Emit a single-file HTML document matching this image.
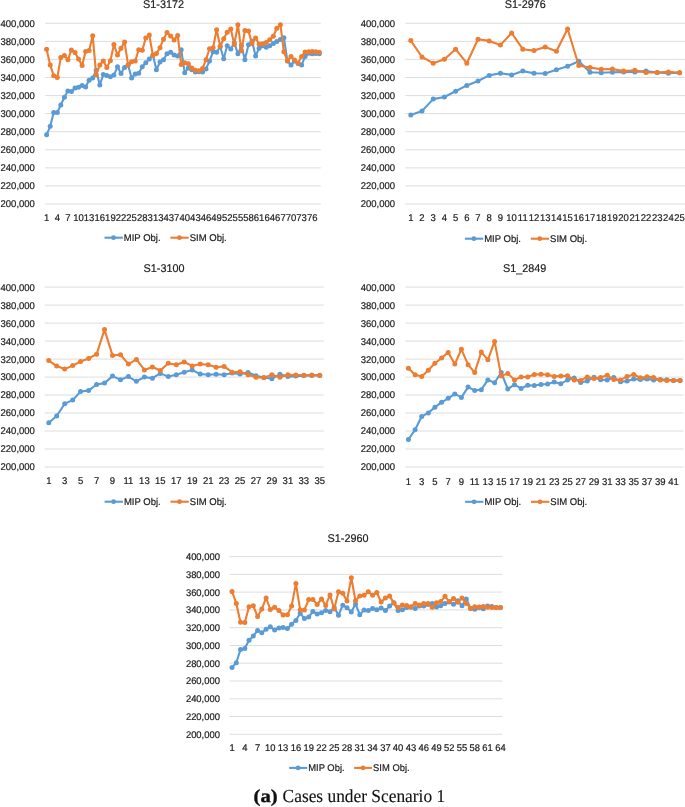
<!DOCTYPE html>
<html lang="en"><head><meta charset="utf-8"><title>Cases under Scenario 1</title>
<style>
html,body{margin:0;padding:0;background:#fff;}
body{width:685px;height:807px;overflow:hidden;}
svg{display:block;}
text{font-family:"Liberation Sans",sans-serif;fill:#202020;text-rendering:geometricPrecision;stroke:#202020;stroke-width:0.2px;}
.cap{font-family:"Liberation Serif",serif;fill:#111;stroke:none;}
</style></head><body>
<svg width="685" height="807" viewBox="0 0 685 807">
<rect width="685" height="807" fill="#fff"/>

<g>
<text transform="translate(163.5 8.3) scale(0.967 1)" font-size="11.2" text-anchor="middle">S1-3172</text>
<line x1="45.2" x2="320.8" y1="23.3" y2="23.3" stroke="#D9D9D9" stroke-width="0.9"/>
<text transform="translate(34.9 26.7) scale(0.97 1)" font-size="9.8" text-anchor="end">400,000</text>
<line x1="45.2" x2="320.8" y1="41.4" y2="41.4" stroke="#D9D9D9" stroke-width="0.9"/>
<text transform="translate(34.9 44.8) scale(0.97 1)" font-size="9.8" text-anchor="end">380,000</text>
<line x1="45.2" x2="320.8" y1="59.4" y2="59.4" stroke="#D9D9D9" stroke-width="0.9"/>
<text transform="translate(34.9 62.8) scale(0.97 1)" font-size="9.8" text-anchor="end">360,000</text>
<line x1="45.2" x2="320.8" y1="77.5" y2="77.5" stroke="#D9D9D9" stroke-width="0.9"/>
<text transform="translate(34.9 80.9) scale(0.97 1)" font-size="9.8" text-anchor="end">340,000</text>
<line x1="45.2" x2="320.8" y1="95.6" y2="95.6" stroke="#D9D9D9" stroke-width="0.9"/>
<text transform="translate(34.9 99) scale(0.97 1)" font-size="9.8" text-anchor="end">320,000</text>
<line x1="45.2" x2="320.8" y1="113.6" y2="113.6" stroke="#D9D9D9" stroke-width="0.9"/>
<text transform="translate(34.9 117) scale(0.97 1)" font-size="9.8" text-anchor="end">300,000</text>
<line x1="45.2" x2="320.8" y1="131.7" y2="131.7" stroke="#D9D9D9" stroke-width="0.9"/>
<text transform="translate(34.9 135.1) scale(0.97 1)" font-size="9.8" text-anchor="end">280,000</text>
<line x1="45.2" x2="320.8" y1="149.8" y2="149.8" stroke="#D9D9D9" stroke-width="0.9"/>
<text transform="translate(34.9 153.2) scale(0.97 1)" font-size="9.8" text-anchor="end">260,000</text>
<line x1="45.2" x2="320.8" y1="167.9" y2="167.9" stroke="#D9D9D9" stroke-width="0.9"/>
<text transform="translate(34.9 171.3) scale(0.97 1)" font-size="9.8" text-anchor="end">240,000</text>
<line x1="45.2" x2="320.8" y1="185.9" y2="185.9" stroke="#D9D9D9" stroke-width="0.9"/>
<text transform="translate(34.9 189.3) scale(0.97 1)" font-size="9.8" text-anchor="end">220,000</text>
<line x1="45.2" x2="320.8" y1="204" y2="204" stroke="#D9D9D9" stroke-width="0.9"/>
<text transform="translate(34.9 207.4) scale(0.97 1)" font-size="9.8" text-anchor="end">200,000</text>
<text transform="translate(46.6 221.1) scale(0.97 1)" font-size="9.8" text-anchor="middle">1</text>
<text transform="translate(57.3 221.1) scale(0.97 1)" font-size="9.8" text-anchor="middle">4</text>
<text transform="translate(67.9 221.1) scale(0.97 1)" font-size="9.8" text-anchor="middle">7</text>
<text transform="translate(78.5 221.1) scale(0.97 1)" font-size="9.8" text-anchor="middle">10</text>
<text transform="translate(89.1 221.1) scale(0.97 1)" font-size="9.8" text-anchor="middle">13</text>
<text transform="translate(99.8 221.1) scale(0.97 1)" font-size="9.8" text-anchor="middle">16</text>
<text transform="translate(110.4 221.1) scale(0.97 1)" font-size="9.8" text-anchor="middle">19</text>
<text transform="translate(121 221.1) scale(0.97 1)" font-size="9.8" text-anchor="middle">22</text>
<text transform="translate(131.6 221.1) scale(0.97 1)" font-size="9.8" text-anchor="middle">25</text>
<text transform="translate(142.3 221.1) scale(0.97 1)" font-size="9.8" text-anchor="middle">28</text>
<text transform="translate(152.9 221.1) scale(0.97 1)" font-size="9.8" text-anchor="middle">31</text>
<text transform="translate(163.5 221.1) scale(0.97 1)" font-size="9.8" text-anchor="middle">34</text>
<text transform="translate(174.1 221.1) scale(0.97 1)" font-size="9.8" text-anchor="middle">37</text>
<text transform="translate(184.7 221.1) scale(0.97 1)" font-size="9.8" text-anchor="middle">40</text>
<text transform="translate(195.4 221.1) scale(0.97 1)" font-size="9.8" text-anchor="middle">43</text>
<text transform="translate(206 221.1) scale(0.97 1)" font-size="9.8" text-anchor="middle">46</text>
<text transform="translate(216.6 221.1) scale(0.97 1)" font-size="9.8" text-anchor="middle">49</text>
<text transform="translate(227.2 221.1) scale(0.97 1)" font-size="9.8" text-anchor="middle">52</text>
<text transform="translate(237.9 221.1) scale(0.97 1)" font-size="9.8" text-anchor="middle">55</text>
<text transform="translate(248.5 221.1) scale(0.97 1)" font-size="9.8" text-anchor="middle">58</text>
<text transform="translate(259.1 221.1) scale(0.97 1)" font-size="9.8" text-anchor="middle">61</text>
<text transform="translate(269.7 221.1) scale(0.97 1)" font-size="9.8" text-anchor="middle">64</text>
<text transform="translate(280.4 221.1) scale(0.97 1)" font-size="9.8" text-anchor="middle">67</text>
<text transform="translate(291 221.1) scale(0.97 1)" font-size="9.8" text-anchor="middle">70</text>
<text transform="translate(301.6 221.1) scale(0.97 1)" font-size="9.8" text-anchor="middle">73</text>
<text transform="translate(312.2 221.1) scale(0.97 1)" font-size="9.8" text-anchor="middle">76</text>
<polyline points="46.6,134.8 50.2,126.3 53.7,112.5 57.3,112.5 60.8,104.9 64.4,97.2 67.9,91.1 71.4,91.6 75,88 78.5,87.3 82.1,85.4 85.6,87 89.1,80.3 92.7,78.1 96.2,70.2 99.8,84.9 103.3,74.6 106.8,75.6 110.4,76.8 113.9,75.1 117.5,66.8 121,73.5 124.6,67.4 128.1,65 131.6,78 135.2,74.1 138.7,73.2 142.3,66.8 145.8,62.8 149.3,59.1 152.9,55 156.4,69.7 160,62 163.5,59.7 167,53.8 170.6,52.3 174.1,54.9 177.7,55.9 181.2,49.7 184.7,72.7 188.3,68.1 191.8,69.7 195.4,72 198.9,71.7 202.5,72 206,68.9 209.5,61 213.1,51.8 216.6,52.3 220.2,46.7 223.7,58.7 227.2,45.7 230.8,49 234.3,42.8 237.9,53.8 241.4,45.7 244.9,59.7 248.5,44.8 252,41 255.6,55.9 259.1,48.2 262.7,45.7 266.2,47.2 269.7,45.7 273.3,43.6 276.8,41.6 280.4,39.5 283.9,37.7 287.4,61 291,65.1 294.5,61 298.1,63.5 301.6,65.1 305.1,56.4 308.7,53.3 312.2,53.8 315.8,53.5 319.3,53.8" fill="none" stroke="#5B9BD5" stroke-width="2.1" stroke-linejoin="round" stroke-linecap="round"/>
<g fill="#5B9BD5"><circle cx="46.6" cy="134.8" r="2.5"/><circle cx="50.2" cy="126.3" r="2.5"/><circle cx="53.7" cy="112.5" r="2.5"/><circle cx="57.3" cy="112.5" r="2.5"/><circle cx="60.8" cy="104.9" r="2.5"/><circle cx="64.4" cy="97.2" r="2.5"/><circle cx="67.9" cy="91.1" r="2.5"/><circle cx="71.4" cy="91.6" r="2.5"/><circle cx="75" cy="88" r="2.5"/><circle cx="78.5" cy="87.3" r="2.5"/><circle cx="82.1" cy="85.4" r="2.5"/><circle cx="85.6" cy="87" r="2.5"/><circle cx="89.1" cy="80.3" r="2.5"/><circle cx="92.7" cy="78.1" r="2.5"/><circle cx="96.2" cy="70.2" r="2.5"/><circle cx="99.8" cy="84.9" r="2.5"/><circle cx="103.3" cy="74.6" r="2.5"/><circle cx="106.8" cy="75.6" r="2.5"/><circle cx="110.4" cy="76.8" r="2.5"/><circle cx="113.9" cy="75.1" r="2.5"/><circle cx="117.5" cy="66.8" r="2.5"/><circle cx="121" cy="73.5" r="2.5"/><circle cx="124.6" cy="67.4" r="2.5"/><circle cx="128.1" cy="65" r="2.5"/><circle cx="131.6" cy="78" r="2.5"/><circle cx="135.2" cy="74.1" r="2.5"/><circle cx="138.7" cy="73.2" r="2.5"/><circle cx="142.3" cy="66.8" r="2.5"/><circle cx="145.8" cy="62.8" r="2.5"/><circle cx="149.3" cy="59.1" r="2.5"/><circle cx="152.9" cy="55" r="2.5"/><circle cx="156.4" cy="69.7" r="2.5"/><circle cx="160" cy="62" r="2.5"/><circle cx="163.5" cy="59.7" r="2.5"/><circle cx="167" cy="53.8" r="2.5"/><circle cx="170.6" cy="52.3" r="2.5"/><circle cx="174.1" cy="54.9" r="2.5"/><circle cx="177.7" cy="55.9" r="2.5"/><circle cx="181.2" cy="49.7" r="2.5"/><circle cx="184.7" cy="72.7" r="2.5"/><circle cx="188.3" cy="68.1" r="2.5"/><circle cx="191.8" cy="69.7" r="2.5"/><circle cx="195.4" cy="72" r="2.5"/><circle cx="198.9" cy="71.7" r="2.5"/><circle cx="202.5" cy="72" r="2.5"/><circle cx="206" cy="68.9" r="2.5"/><circle cx="209.5" cy="61" r="2.5"/><circle cx="213.1" cy="51.8" r="2.5"/><circle cx="216.6" cy="52.3" r="2.5"/><circle cx="220.2" cy="46.7" r="2.5"/><circle cx="223.7" cy="58.7" r="2.5"/><circle cx="227.2" cy="45.7" r="2.5"/><circle cx="230.8" cy="49" r="2.5"/><circle cx="234.3" cy="42.8" r="2.5"/><circle cx="237.9" cy="53.8" r="2.5"/><circle cx="241.4" cy="45.7" r="2.5"/><circle cx="244.9" cy="59.7" r="2.5"/><circle cx="248.5" cy="44.8" r="2.5"/><circle cx="252" cy="41" r="2.5"/><circle cx="255.6" cy="55.9" r="2.5"/><circle cx="259.1" cy="48.2" r="2.5"/><circle cx="262.7" cy="45.7" r="2.5"/><circle cx="266.2" cy="47.2" r="2.5"/><circle cx="269.7" cy="45.7" r="2.5"/><circle cx="273.3" cy="43.6" r="2.5"/><circle cx="276.8" cy="41.6" r="2.5"/><circle cx="280.4" cy="39.5" r="2.5"/><circle cx="283.9" cy="37.7" r="2.5"/><circle cx="287.4" cy="61" r="2.5"/><circle cx="291" cy="65.1" r="2.5"/><circle cx="294.5" cy="61" r="2.5"/><circle cx="298.1" cy="63.5" r="2.5"/><circle cx="301.6" cy="65.1" r="2.5"/><circle cx="305.1" cy="56.4" r="2.5"/><circle cx="308.7" cy="53.3" r="2.5"/><circle cx="312.2" cy="53.8" r="2.5"/><circle cx="315.8" cy="53.5" r="2.5"/><circle cx="319.3" cy="53.8" r="2.5"/></g>
<polyline points="46.6,49.2 50.2,64.9 53.7,75.8 57.3,77.5 60.8,57.4 64.4,55.4 67.9,59.8 71.4,49.9 75,52.5 78.5,58.9 82.1,65.6 85.6,51.5 89.1,50.6 92.7,35.7 96.2,74.8 99.8,64.9 103.3,61 106.8,67.4 110.4,60.7 113.9,44.6 117.5,54.9 121,48.2 124.6,42.1 128.1,65.1 131.6,61.8 135.2,61 138.7,49.7 142.3,50.3 145.8,38 149.3,35.1 152.9,55.4 156.4,53.6 160,47.7 163.5,39.2 167,32.6 170.6,35.9 174.1,40 177.7,35.4 181.2,64.4 184.7,62.8 188.3,63.8 191.8,68.1 195.4,70.2 198.9,70.7 202.5,68.6 206,59.7 209.5,48.7 213.1,47.7 216.6,29.8 220.2,46.2 223.7,38.7 227.2,32.3 230.8,29 234.3,44.6 237.9,24.7 241.4,50.8 244.9,30.5 248.5,31.1 252,43.6 255.6,38 259.1,44.1 262.7,43.8 266.2,42.6 269.7,39.8 273.3,36.2 276.8,28.3 280.4,24.7 283.9,51.8 287.4,60.7 291,56.4 294.5,60 298.1,63 301.6,56.4 305.1,52 308.7,51.8 312.2,51.5 315.8,51.8 319.3,52.3" fill="none" stroke="#ED7D31" stroke-width="2.1" stroke-linejoin="round" stroke-linecap="round"/>
<g fill="#ED7D31"><circle cx="46.6" cy="49.2" r="2.5"/><circle cx="50.2" cy="64.9" r="2.5"/><circle cx="53.7" cy="75.8" r="2.5"/><circle cx="57.3" cy="77.5" r="2.5"/><circle cx="60.8" cy="57.4" r="2.5"/><circle cx="64.4" cy="55.4" r="2.5"/><circle cx="67.9" cy="59.8" r="2.5"/><circle cx="71.4" cy="49.9" r="2.5"/><circle cx="75" cy="52.5" r="2.5"/><circle cx="78.5" cy="58.9" r="2.5"/><circle cx="82.1" cy="65.6" r="2.5"/><circle cx="85.6" cy="51.5" r="2.5"/><circle cx="89.1" cy="50.6" r="2.5"/><circle cx="92.7" cy="35.7" r="2.5"/><circle cx="96.2" cy="74.8" r="2.5"/><circle cx="99.8" cy="64.9" r="2.5"/><circle cx="103.3" cy="61" r="2.5"/><circle cx="106.8" cy="67.4" r="2.5"/><circle cx="110.4" cy="60.7" r="2.5"/><circle cx="113.9" cy="44.6" r="2.5"/><circle cx="117.5" cy="54.9" r="2.5"/><circle cx="121" cy="48.2" r="2.5"/><circle cx="124.6" cy="42.1" r="2.5"/><circle cx="128.1" cy="65.1" r="2.5"/><circle cx="131.6" cy="61.8" r="2.5"/><circle cx="135.2" cy="61" r="2.5"/><circle cx="138.7" cy="49.7" r="2.5"/><circle cx="142.3" cy="50.3" r="2.5"/><circle cx="145.8" cy="38" r="2.5"/><circle cx="149.3" cy="35.1" r="2.5"/><circle cx="152.9" cy="55.4" r="2.5"/><circle cx="156.4" cy="53.6" r="2.5"/><circle cx="160" cy="47.7" r="2.5"/><circle cx="163.5" cy="39.2" r="2.5"/><circle cx="167" cy="32.6" r="2.5"/><circle cx="170.6" cy="35.9" r="2.5"/><circle cx="174.1" cy="40" r="2.5"/><circle cx="177.7" cy="35.4" r="2.5"/><circle cx="181.2" cy="64.4" r="2.5"/><circle cx="184.7" cy="62.8" r="2.5"/><circle cx="188.3" cy="63.8" r="2.5"/><circle cx="191.8" cy="68.1" r="2.5"/><circle cx="195.4" cy="70.2" r="2.5"/><circle cx="198.9" cy="70.7" r="2.5"/><circle cx="202.5" cy="68.6" r="2.5"/><circle cx="206" cy="59.7" r="2.5"/><circle cx="209.5" cy="48.7" r="2.5"/><circle cx="213.1" cy="47.7" r="2.5"/><circle cx="216.6" cy="29.8" r="2.5"/><circle cx="220.2" cy="46.2" r="2.5"/><circle cx="223.7" cy="38.7" r="2.5"/><circle cx="227.2" cy="32.3" r="2.5"/><circle cx="230.8" cy="29" r="2.5"/><circle cx="234.3" cy="44.6" r="2.5"/><circle cx="237.9" cy="24.7" r="2.5"/><circle cx="241.4" cy="50.8" r="2.5"/><circle cx="244.9" cy="30.5" r="2.5"/><circle cx="248.5" cy="31.1" r="2.5"/><circle cx="252" cy="43.6" r="2.5"/><circle cx="255.6" cy="38" r="2.5"/><circle cx="259.1" cy="44.1" r="2.5"/><circle cx="262.7" cy="43.8" r="2.5"/><circle cx="266.2" cy="42.6" r="2.5"/><circle cx="269.7" cy="39.8" r="2.5"/><circle cx="273.3" cy="36.2" r="2.5"/><circle cx="276.8" cy="28.3" r="2.5"/><circle cx="280.4" cy="24.7" r="2.5"/><circle cx="283.9" cy="51.8" r="2.5"/><circle cx="287.4" cy="60.7" r="2.5"/><circle cx="291" cy="56.4" r="2.5"/><circle cx="294.5" cy="60" r="2.5"/><circle cx="298.1" cy="63" r="2.5"/><circle cx="301.6" cy="56.4" r="2.5"/><circle cx="305.1" cy="52" r="2.5"/><circle cx="308.7" cy="51.8" r="2.5"/><circle cx="312.2" cy="51.5" r="2.5"/><circle cx="315.8" cy="51.8" r="2.5"/><circle cx="319.3" cy="52.3" r="2.5"/></g>
<line x1="104.5" x2="122.8" y1="237.7" y2="237.7" stroke="#5B9BD5" stroke-width="2.1"/>
<circle cx="113.5" cy="237.7" r="2.4" fill="#5B9BD5"/>
<text transform="translate(123.8 240.9) scale(0.97 1)" font-size="9.8" text-anchor="start">MIP Obj.</text>
<line x1="170.4" x2="188.7" y1="237.7" y2="237.7" stroke="#ED7D31" stroke-width="2.1"/>
<circle cx="179.4" cy="237.7" r="2.4" fill="#ED7D31"/>
<text transform="translate(189.7 240.9) scale(0.97 1)" font-size="9.8" text-anchor="start">SIM Obj.</text>
</g>
<g>
<text transform="translate(525.3 8.3) scale(0.967 1)" font-size="11.2" text-anchor="middle">S1-2976</text>
<line x1="405.3" x2="685.3" y1="23.3" y2="23.3" stroke="#D9D9D9" stroke-width="0.9"/>
<text transform="translate(395 26.7) scale(0.97 1)" font-size="9.8" text-anchor="end">400,000</text>
<line x1="405.3" x2="685.3" y1="41.4" y2="41.4" stroke="#D9D9D9" stroke-width="0.9"/>
<text transform="translate(395 44.8) scale(0.97 1)" font-size="9.8" text-anchor="end">380,000</text>
<line x1="405.3" x2="685.3" y1="59.4" y2="59.4" stroke="#D9D9D9" stroke-width="0.9"/>
<text transform="translate(395 62.8) scale(0.97 1)" font-size="9.8" text-anchor="end">360,000</text>
<line x1="405.3" x2="685.3" y1="77.5" y2="77.5" stroke="#D9D9D9" stroke-width="0.9"/>
<text transform="translate(395 80.9) scale(0.97 1)" font-size="9.8" text-anchor="end">340,000</text>
<line x1="405.3" x2="685.3" y1="95.6" y2="95.6" stroke="#D9D9D9" stroke-width="0.9"/>
<text transform="translate(395 99) scale(0.97 1)" font-size="9.8" text-anchor="end">320,000</text>
<line x1="405.3" x2="685.3" y1="113.6" y2="113.6" stroke="#D9D9D9" stroke-width="0.9"/>
<text transform="translate(395 117) scale(0.97 1)" font-size="9.8" text-anchor="end">300,000</text>
<line x1="405.3" x2="685.3" y1="131.7" y2="131.7" stroke="#D9D9D9" stroke-width="0.9"/>
<text transform="translate(395 135.1) scale(0.97 1)" font-size="9.8" text-anchor="end">280,000</text>
<line x1="405.3" x2="685.3" y1="149.8" y2="149.8" stroke="#D9D9D9" stroke-width="0.9"/>
<text transform="translate(395 153.2) scale(0.97 1)" font-size="9.8" text-anchor="end">260,000</text>
<line x1="405.3" x2="685.3" y1="167.9" y2="167.9" stroke="#D9D9D9" stroke-width="0.9"/>
<text transform="translate(395 171.3) scale(0.97 1)" font-size="9.8" text-anchor="end">240,000</text>
<line x1="405.3" x2="685.3" y1="185.9" y2="185.9" stroke="#D9D9D9" stroke-width="0.9"/>
<text transform="translate(395 189.3) scale(0.97 1)" font-size="9.8" text-anchor="end">220,000</text>
<line x1="405.3" x2="685.3" y1="204" y2="204" stroke="#D9D9D9" stroke-width="0.9"/>
<text transform="translate(395 207.4) scale(0.97 1)" font-size="9.8" text-anchor="end">200,000</text>
<text transform="translate(410.8 221.1) scale(0.97 1)" font-size="9.8" text-anchor="middle">1</text>
<text transform="translate(422 221.1) scale(0.97 1)" font-size="9.8" text-anchor="middle">2</text>
<text transform="translate(433.2 221.1) scale(0.97 1)" font-size="9.8" text-anchor="middle">3</text>
<text transform="translate(444.4 221.1) scale(0.97 1)" font-size="9.8" text-anchor="middle">4</text>
<text transform="translate(455.6 221.1) scale(0.97 1)" font-size="9.8" text-anchor="middle">5</text>
<text transform="translate(466.8 221.1) scale(0.97 1)" font-size="9.8" text-anchor="middle">6</text>
<text transform="translate(478 221.1) scale(0.97 1)" font-size="9.8" text-anchor="middle">7</text>
<text transform="translate(489.2 221.1) scale(0.97 1)" font-size="9.8" text-anchor="middle">8</text>
<text transform="translate(500.4 221.1) scale(0.97 1)" font-size="9.8" text-anchor="middle">9</text>
<text transform="translate(511.6 221.1) scale(0.97 1)" font-size="9.8" text-anchor="middle">10</text>
<text transform="translate(522.8 221.1) scale(0.97 1)" font-size="9.8" text-anchor="middle">11</text>
<text transform="translate(534 221.1) scale(0.97 1)" font-size="9.8" text-anchor="middle">12</text>
<text transform="translate(545.2 221.1) scale(0.97 1)" font-size="9.8" text-anchor="middle">13</text>
<text transform="translate(556.4 221.1) scale(0.97 1)" font-size="9.8" text-anchor="middle">14</text>
<text transform="translate(567.6 221.1) scale(0.97 1)" font-size="9.8" text-anchor="middle">15</text>
<text transform="translate(578.8 221.1) scale(0.97 1)" font-size="9.8" text-anchor="middle">16</text>
<text transform="translate(590 221.1) scale(0.97 1)" font-size="9.8" text-anchor="middle">17</text>
<text transform="translate(601.2 221.1) scale(0.97 1)" font-size="9.8" text-anchor="middle">18</text>
<text transform="translate(612.4 221.1) scale(0.97 1)" font-size="9.8" text-anchor="middle">19</text>
<text transform="translate(623.6 221.1) scale(0.97 1)" font-size="9.8" text-anchor="middle">20</text>
<text transform="translate(634.8 221.1) scale(0.97 1)" font-size="9.8" text-anchor="middle">21</text>
<text transform="translate(646 221.1) scale(0.97 1)" font-size="9.8" text-anchor="middle">22</text>
<text transform="translate(657.2 221.1) scale(0.97 1)" font-size="9.8" text-anchor="middle">23</text>
<text transform="translate(668.4 221.1) scale(0.97 1)" font-size="9.8" text-anchor="middle">24</text>
<text transform="translate(679.6 221.1) scale(0.97 1)" font-size="9.8" text-anchor="middle">25</text>
<polyline points="410.8,114.9 422,111 433.2,99.1 444.4,97 455.6,91.2 466.8,85.4 478,81 489.2,75.4 500.4,73.2 511.6,74.9 522.8,71.1 534,73.3 545.2,73.5 556.4,69.8 567.6,66.3 578.8,61.3 590,72.3 601.2,72.8 612.4,72.3 623.6,72.1 634.8,71.9 646,71.1 657.2,72.5 668.4,73.2 679.6,72.8" fill="none" stroke="#5B9BD5" stroke-width="2.1" stroke-linejoin="round" stroke-linecap="round"/>
<g fill="#5B9BD5"><circle cx="410.8" cy="114.9" r="2.5"/><circle cx="422" cy="111" r="2.5"/><circle cx="433.2" cy="99.1" r="2.5"/><circle cx="444.4" cy="97" r="2.5"/><circle cx="455.6" cy="91.2" r="2.5"/><circle cx="466.8" cy="85.4" r="2.5"/><circle cx="478" cy="81" r="2.5"/><circle cx="489.2" cy="75.4" r="2.5"/><circle cx="500.4" cy="73.2" r="2.5"/><circle cx="511.6" cy="74.9" r="2.5"/><circle cx="522.8" cy="71.1" r="2.5"/><circle cx="534" cy="73.3" r="2.5"/><circle cx="545.2" cy="73.5" r="2.5"/><circle cx="556.4" cy="69.8" r="2.5"/><circle cx="567.6" cy="66.3" r="2.5"/><circle cx="578.8" cy="61.3" r="2.5"/><circle cx="590" cy="72.3" r="2.5"/><circle cx="601.2" cy="72.8" r="2.5"/><circle cx="612.4" cy="72.3" r="2.5"/><circle cx="623.6" cy="72.1" r="2.5"/><circle cx="634.8" cy="71.9" r="2.5"/><circle cx="646" cy="71.1" r="2.5"/><circle cx="657.2" cy="72.5" r="2.5"/><circle cx="668.4" cy="73.2" r="2.5"/><circle cx="679.6" cy="72.8" r="2.5"/></g>
<polyline points="410.8,40.6 422,57 433.2,63.2 444.4,59.3 455.6,49.2 466.8,63.2 478,39.2 489.2,40.9 500.4,45.1 511.6,33 522.8,49.2 534,50.6 545.2,46.9 556.4,51.3 567.6,29 578.8,65.5 590,67.6 601.2,69.3 612.4,69 623.6,71.1 634.8,70.2 646,72.5 657.2,72.5 668.4,71.9 679.6,72.8" fill="none" stroke="#ED7D31" stroke-width="2.1" stroke-linejoin="round" stroke-linecap="round"/>
<g fill="#ED7D31"><circle cx="410.8" cy="40.6" r="2.5"/><circle cx="422" cy="57" r="2.5"/><circle cx="433.2" cy="63.2" r="2.5"/><circle cx="444.4" cy="59.3" r="2.5"/><circle cx="455.6" cy="49.2" r="2.5"/><circle cx="466.8" cy="63.2" r="2.5"/><circle cx="478" cy="39.2" r="2.5"/><circle cx="489.2" cy="40.9" r="2.5"/><circle cx="500.4" cy="45.1" r="2.5"/><circle cx="511.6" cy="33" r="2.5"/><circle cx="522.8" cy="49.2" r="2.5"/><circle cx="534" cy="50.6" r="2.5"/><circle cx="545.2" cy="46.9" r="2.5"/><circle cx="556.4" cy="51.3" r="2.5"/><circle cx="567.6" cy="29" r="2.5"/><circle cx="578.8" cy="65.5" r="2.5"/><circle cx="590" cy="67.6" r="2.5"/><circle cx="601.2" cy="69.3" r="2.5"/><circle cx="612.4" cy="69" r="2.5"/><circle cx="623.6" cy="71.1" r="2.5"/><circle cx="634.8" cy="70.2" r="2.5"/><circle cx="646" cy="72.5" r="2.5"/><circle cx="657.2" cy="72.5" r="2.5"/><circle cx="668.4" cy="71.9" r="2.5"/><circle cx="679.6" cy="72.8" r="2.5"/></g>
<line x1="464.9" x2="483.2" y1="238.7" y2="238.7" stroke="#5B9BD5" stroke-width="2.1"/>
<circle cx="473.9" cy="238.7" r="2.4" fill="#5B9BD5"/>
<text transform="translate(484.2 241.9) scale(0.97 1)" font-size="9.8" text-anchor="start">MIP Obj.</text>
<line x1="530.8" x2="549.1" y1="238.7" y2="238.7" stroke="#ED7D31" stroke-width="2.1"/>
<circle cx="539.8" cy="238.7" r="2.4" fill="#ED7D31"/>
<text transform="translate(550.1 241.9) scale(0.97 1)" font-size="9.8" text-anchor="start">SIM Obj.</text>
</g>
<g>
<text transform="translate(164 271.6) scale(0.967 1)" font-size="11.2" text-anchor="middle">S1-3100</text>
<line x1="44.7" x2="323.7" y1="287.1" y2="287.1" stroke="#D9D9D9" stroke-width="0.9"/>
<text transform="translate(34.9 290.5) scale(0.97 1)" font-size="9.8" text-anchor="end">400,000</text>
<line x1="44.7" x2="323.7" y1="305.1" y2="305.1" stroke="#D9D9D9" stroke-width="0.9"/>
<text transform="translate(34.9 308.5) scale(0.97 1)" font-size="9.8" text-anchor="end">380,000</text>
<line x1="44.7" x2="323.7" y1="323.1" y2="323.1" stroke="#D9D9D9" stroke-width="0.9"/>
<text transform="translate(34.9 326.5) scale(0.97 1)" font-size="9.8" text-anchor="end">360,000</text>
<line x1="44.7" x2="323.7" y1="341.1" y2="341.1" stroke="#D9D9D9" stroke-width="0.9"/>
<text transform="translate(34.9 344.5) scale(0.97 1)" font-size="9.8" text-anchor="end">340,000</text>
<line x1="44.7" x2="323.7" y1="359.1" y2="359.1" stroke="#D9D9D9" stroke-width="0.9"/>
<text transform="translate(34.9 362.5) scale(0.97 1)" font-size="9.8" text-anchor="end">320,000</text>
<line x1="44.7" x2="323.7" y1="377.1" y2="377.1" stroke="#D9D9D9" stroke-width="0.9"/>
<text transform="translate(34.9 380.4) scale(0.97 1)" font-size="9.8" text-anchor="end">300,000</text>
<line x1="44.7" x2="323.7" y1="395" y2="395" stroke="#D9D9D9" stroke-width="0.9"/>
<text transform="translate(34.9 398.4) scale(0.97 1)" font-size="9.8" text-anchor="end">280,000</text>
<line x1="44.7" x2="323.7" y1="413" y2="413" stroke="#D9D9D9" stroke-width="0.9"/>
<text transform="translate(34.9 416.4) scale(0.97 1)" font-size="9.8" text-anchor="end">260,000</text>
<line x1="44.7" x2="323.7" y1="431" y2="431" stroke="#D9D9D9" stroke-width="0.9"/>
<text transform="translate(34.9 434.4) scale(0.97 1)" font-size="9.8" text-anchor="end">240,000</text>
<line x1="44.7" x2="323.7" y1="449" y2="449" stroke="#D9D9D9" stroke-width="0.9"/>
<text transform="translate(34.9 452.4) scale(0.97 1)" font-size="9.8" text-anchor="end">220,000</text>
<line x1="44.7" x2="323.7" y1="467" y2="467" stroke="#D9D9D9" stroke-width="0.9"/>
<text transform="translate(34.9 470.4) scale(0.97 1)" font-size="9.8" text-anchor="end">200,000</text>
<text transform="translate(48.8 484.3) scale(0.97 1)" font-size="9.8" text-anchor="middle">1</text>
<text transform="translate(64.7 484.3) scale(0.97 1)" font-size="9.8" text-anchor="middle">3</text>
<text transform="translate(80.6 484.3) scale(0.97 1)" font-size="9.8" text-anchor="middle">5</text>
<text transform="translate(96.6 484.3) scale(0.97 1)" font-size="9.8" text-anchor="middle">7</text>
<text transform="translate(112.5 484.3) scale(0.97 1)" font-size="9.8" text-anchor="middle">9</text>
<text transform="translate(128.4 484.3) scale(0.97 1)" font-size="9.8" text-anchor="middle">11</text>
<text transform="translate(144.4 484.3) scale(0.97 1)" font-size="9.8" text-anchor="middle">13</text>
<text transform="translate(160.3 484.3) scale(0.97 1)" font-size="9.8" text-anchor="middle">15</text>
<text transform="translate(176.3 484.3) scale(0.97 1)" font-size="9.8" text-anchor="middle">17</text>
<text transform="translate(192.2 484.3) scale(0.97 1)" font-size="9.8" text-anchor="middle">19</text>
<text transform="translate(208.2 484.3) scale(0.97 1)" font-size="9.8" text-anchor="middle">21</text>
<text transform="translate(224.1 484.3) scale(0.97 1)" font-size="9.8" text-anchor="middle">23</text>
<text transform="translate(240 484.3) scale(0.97 1)" font-size="9.8" text-anchor="middle">25</text>
<text transform="translate(256 484.3) scale(0.97 1)" font-size="9.8" text-anchor="middle">27</text>
<text transform="translate(271.9 484.3) scale(0.97 1)" font-size="9.8" text-anchor="middle">29</text>
<text transform="translate(287.9 484.3) scale(0.97 1)" font-size="9.8" text-anchor="middle">31</text>
<text transform="translate(303.8 484.3) scale(0.97 1)" font-size="9.8" text-anchor="middle">33</text>
<text transform="translate(319.7 484.3) scale(0.97 1)" font-size="9.8" text-anchor="middle">35</text>
<polyline points="48.8,422.8 56.7,416 64.7,403.7 72.7,400.1 80.6,391.5 88.6,390.6 96.6,384.5 104.5,383.1 112.5,376.1 120.5,379.7 128.4,376.6 136.4,381.3 144.4,377.1 152.4,378.2 160.3,373.4 168.3,376.6 176.3,374.7 184.2,372.2 192.2,370.1 200.2,374 208.2,374.8 216.1,374.3 224.1,374.7 232.1,373.1 240,374 248,372.6 256,375.7 263.9,377.5 271.9,378.7 279.9,374.3 287.9,376.6 295.8,376.1 303.8,375.6 311.8,375.4 319.7,375.4" fill="none" stroke="#5B9BD5" stroke-width="2.1" stroke-linejoin="round" stroke-linecap="round"/>
<g fill="#5B9BD5"><circle cx="48.8" cy="422.8" r="2.5"/><circle cx="56.7" cy="416" r="2.5"/><circle cx="64.7" cy="403.7" r="2.5"/><circle cx="72.7" cy="400.1" r="2.5"/><circle cx="80.6" cy="391.5" r="2.5"/><circle cx="88.6" cy="390.6" r="2.5"/><circle cx="96.6" cy="384.5" r="2.5"/><circle cx="104.5" cy="383.1" r="2.5"/><circle cx="112.5" cy="376.1" r="2.5"/><circle cx="120.5" cy="379.7" r="2.5"/><circle cx="128.4" cy="376.6" r="2.5"/><circle cx="136.4" cy="381.3" r="2.5"/><circle cx="144.4" cy="377.1" r="2.5"/><circle cx="152.4" cy="378.2" r="2.5"/><circle cx="160.3" cy="373.4" r="2.5"/><circle cx="168.3" cy="376.6" r="2.5"/><circle cx="176.3" cy="374.7" r="2.5"/><circle cx="184.2" cy="372.2" r="2.5"/><circle cx="192.2" cy="370.1" r="2.5"/><circle cx="200.2" cy="374" r="2.5"/><circle cx="208.2" cy="374.8" r="2.5"/><circle cx="216.1" cy="374.3" r="2.5"/><circle cx="224.1" cy="374.7" r="2.5"/><circle cx="232.1" cy="373.1" r="2.5"/><circle cx="240" cy="374" r="2.5"/><circle cx="248" cy="372.6" r="2.5"/><circle cx="256" cy="375.7" r="2.5"/><circle cx="263.9" cy="377.5" r="2.5"/><circle cx="271.9" cy="378.7" r="2.5"/><circle cx="279.9" cy="374.3" r="2.5"/><circle cx="287.9" cy="376.6" r="2.5"/><circle cx="295.8" cy="376.1" r="2.5"/><circle cx="303.8" cy="375.6" r="2.5"/><circle cx="311.8" cy="375.4" r="2.5"/><circle cx="319.7" cy="375.4" r="2.5"/></g>
<polyline points="48.8,360.6 56.7,366.1 64.7,369.1 72.7,365.6 80.6,361.5 88.6,358.5 96.6,354.2 104.5,329.6 112.5,355.4 120.5,354.7 128.4,364.1 136.4,359.4 144.4,369.9 152.4,367 160.3,370.5 168.3,363.3 176.3,364.8 184.2,362 192.2,365.9 200.2,364.1 208.2,364.7 216.1,367.3 224.1,366.4 232.1,372.2 240,371.7 248,374.8 256,377.3 263.9,377.8 271.9,374.8 279.9,377.3 287.9,374.8 295.8,375 303.8,375.2 311.8,375 319.7,375.2" fill="none" stroke="#ED7D31" stroke-width="2.1" stroke-linejoin="round" stroke-linecap="round"/>
<g fill="#ED7D31"><circle cx="48.8" cy="360.6" r="2.5"/><circle cx="56.7" cy="366.1" r="2.5"/><circle cx="64.7" cy="369.1" r="2.5"/><circle cx="72.7" cy="365.6" r="2.5"/><circle cx="80.6" cy="361.5" r="2.5"/><circle cx="88.6" cy="358.5" r="2.5"/><circle cx="96.6" cy="354.2" r="2.5"/><circle cx="104.5" cy="329.6" r="2.5"/><circle cx="112.5" cy="355.4" r="2.5"/><circle cx="120.5" cy="354.7" r="2.5"/><circle cx="128.4" cy="364.1" r="2.5"/><circle cx="136.4" cy="359.4" r="2.5"/><circle cx="144.4" cy="369.9" r="2.5"/><circle cx="152.4" cy="367" r="2.5"/><circle cx="160.3" cy="370.5" r="2.5"/><circle cx="168.3" cy="363.3" r="2.5"/><circle cx="176.3" cy="364.8" r="2.5"/><circle cx="184.2" cy="362" r="2.5"/><circle cx="192.2" cy="365.9" r="2.5"/><circle cx="200.2" cy="364.1" r="2.5"/><circle cx="208.2" cy="364.7" r="2.5"/><circle cx="216.1" cy="367.3" r="2.5"/><circle cx="224.1" cy="366.4" r="2.5"/><circle cx="232.1" cy="372.2" r="2.5"/><circle cx="240" cy="371.7" r="2.5"/><circle cx="248" cy="374.8" r="2.5"/><circle cx="256" cy="377.3" r="2.5"/><circle cx="263.9" cy="377.8" r="2.5"/><circle cx="271.9" cy="374.8" r="2.5"/><circle cx="279.9" cy="377.3" r="2.5"/><circle cx="287.9" cy="374.8" r="2.5"/><circle cx="295.8" cy="375" r="2.5"/><circle cx="303.8" cy="375.2" r="2.5"/><circle cx="311.8" cy="375" r="2.5"/><circle cx="319.7" cy="375.2" r="2.5"/></g>
<line x1="104.6" x2="122.9" y1="501.7" y2="501.7" stroke="#5B9BD5" stroke-width="2.1"/>
<circle cx="113.6" cy="501.7" r="2.4" fill="#5B9BD5"/>
<text transform="translate(123.9 504.9) scale(0.97 1)" font-size="9.8" text-anchor="start">MIP Obj.</text>
<line x1="170.5" x2="188.8" y1="501.7" y2="501.7" stroke="#ED7D31" stroke-width="2.1"/>
<circle cx="179.5" cy="501.7" r="2.4" fill="#ED7D31"/>
<text transform="translate(189.8 504.9) scale(0.97 1)" font-size="9.8" text-anchor="start">SIM Obj.</text>
</g>
<g>
<text transform="translate(524.6 271.6) scale(0.967 1)" font-size="11.2" text-anchor="middle">S1_2849</text>
<line x1="405.3" x2="683.5" y1="287.1" y2="287.1" stroke="#D9D9D9" stroke-width="0.9"/>
<text transform="translate(395 290.5) scale(0.97 1)" font-size="9.8" text-anchor="end">400,000</text>
<line x1="405.3" x2="683.5" y1="305.1" y2="305.1" stroke="#D9D9D9" stroke-width="0.9"/>
<text transform="translate(395 308.5) scale(0.97 1)" font-size="9.8" text-anchor="end">380,000</text>
<line x1="405.3" x2="683.5" y1="323.1" y2="323.1" stroke="#D9D9D9" stroke-width="0.9"/>
<text transform="translate(395 326.5) scale(0.97 1)" font-size="9.8" text-anchor="end">360,000</text>
<line x1="405.3" x2="683.5" y1="341.1" y2="341.1" stroke="#D9D9D9" stroke-width="0.9"/>
<text transform="translate(395 344.5) scale(0.97 1)" font-size="9.8" text-anchor="end">340,000</text>
<line x1="405.3" x2="683.5" y1="359.1" y2="359.1" stroke="#D9D9D9" stroke-width="0.9"/>
<text transform="translate(395 362.5) scale(0.97 1)" font-size="9.8" text-anchor="end">320,000</text>
<line x1="405.3" x2="683.5" y1="377.1" y2="377.1" stroke="#D9D9D9" stroke-width="0.9"/>
<text transform="translate(395 380.4) scale(0.97 1)" font-size="9.8" text-anchor="end">300,000</text>
<line x1="405.3" x2="683.5" y1="395" y2="395" stroke="#D9D9D9" stroke-width="0.9"/>
<text transform="translate(395 398.4) scale(0.97 1)" font-size="9.8" text-anchor="end">280,000</text>
<line x1="405.3" x2="683.5" y1="413" y2="413" stroke="#D9D9D9" stroke-width="0.9"/>
<text transform="translate(395 416.4) scale(0.97 1)" font-size="9.8" text-anchor="end">260,000</text>
<line x1="405.3" x2="683.5" y1="431" y2="431" stroke="#D9D9D9" stroke-width="0.9"/>
<text transform="translate(395 434.4) scale(0.97 1)" font-size="9.8" text-anchor="end">240,000</text>
<line x1="405.3" x2="683.5" y1="449" y2="449" stroke="#D9D9D9" stroke-width="0.9"/>
<text transform="translate(395 452.4) scale(0.97 1)" font-size="9.8" text-anchor="end">220,000</text>
<line x1="405.3" x2="683.5" y1="467" y2="467" stroke="#D9D9D9" stroke-width="0.9"/>
<text transform="translate(395 470.4) scale(0.97 1)" font-size="9.8" text-anchor="end">200,000</text>
<text transform="translate(408.4 484.9) scale(0.97 1)" font-size="9.8" text-anchor="middle">1</text>
<text transform="translate(421.7 484.9) scale(0.97 1)" font-size="9.8" text-anchor="middle">3</text>
<text transform="translate(434.9 484.9) scale(0.97 1)" font-size="9.8" text-anchor="middle">5</text>
<text transform="translate(448.2 484.9) scale(0.97 1)" font-size="9.8" text-anchor="middle">7</text>
<text transform="translate(461.4 484.9) scale(0.97 1)" font-size="9.8" text-anchor="middle">9</text>
<text transform="translate(474.7 484.9) scale(0.97 1)" font-size="9.8" text-anchor="middle">11</text>
<text transform="translate(487.9 484.9) scale(0.97 1)" font-size="9.8" text-anchor="middle">13</text>
<text transform="translate(501.2 484.9) scale(0.97 1)" font-size="9.8" text-anchor="middle">15</text>
<text transform="translate(514.5 484.9) scale(0.97 1)" font-size="9.8" text-anchor="middle">17</text>
<text transform="translate(527.7 484.9) scale(0.97 1)" font-size="9.8" text-anchor="middle">19</text>
<text transform="translate(541 484.9) scale(0.97 1)" font-size="9.8" text-anchor="middle">21</text>
<text transform="translate(554.2 484.9) scale(0.97 1)" font-size="9.8" text-anchor="middle">23</text>
<text transform="translate(567.5 484.9) scale(0.97 1)" font-size="9.8" text-anchor="middle">25</text>
<text transform="translate(580.7 484.9) scale(0.97 1)" font-size="9.8" text-anchor="middle">27</text>
<text transform="translate(594 484.9) scale(0.97 1)" font-size="9.8" text-anchor="middle">29</text>
<text transform="translate(607.2 484.9) scale(0.97 1)" font-size="9.8" text-anchor="middle">31</text>
<text transform="translate(620.5 484.9) scale(0.97 1)" font-size="9.8" text-anchor="middle">33</text>
<text transform="translate(633.7 484.9) scale(0.97 1)" font-size="9.8" text-anchor="middle">35</text>
<text transform="translate(647 484.9) scale(0.97 1)" font-size="9.8" text-anchor="middle">37</text>
<text transform="translate(660.2 484.9) scale(0.97 1)" font-size="9.8" text-anchor="middle">39</text>
<text transform="translate(673.5 484.9) scale(0.97 1)" font-size="9.8" text-anchor="middle">41</text>
<polyline points="408.4,439.5 415.1,429.8 421.7,416.5 428.3,412.9 434.9,407.2 441.6,402.3 448.2,398.3 454.8,393.9 461.4,397.4 468.1,387.1 474.7,390.4 481.3,389.7 487.9,379.9 494.6,382.7 501.2,372.5 507.8,389 514.5,384.7 521.1,388.4 527.7,385.2 534.3,385.5 541,384.5 547.6,384 554.2,382.1 560.8,383.7 567.5,380.1 574.1,377.9 580.7,382.6 587.3,380.9 594,377.3 600.6,379.8 607.2,379.9 613.8,377.4 620.5,381.8 627.1,381.1 633.7,378.9 640.3,379.6 647,378.9 653.6,379.9 660.2,379.4 666.8,379.8 673.5,380.4 680.1,380.4" fill="none" stroke="#5B9BD5" stroke-width="2.1" stroke-linejoin="round" stroke-linecap="round"/>
<g fill="#5B9BD5"><circle cx="408.4" cy="439.5" r="2.5"/><circle cx="415.1" cy="429.8" r="2.5"/><circle cx="421.7" cy="416.5" r="2.5"/><circle cx="428.3" cy="412.9" r="2.5"/><circle cx="434.9" cy="407.2" r="2.5"/><circle cx="441.6" cy="402.3" r="2.5"/><circle cx="448.2" cy="398.3" r="2.5"/><circle cx="454.8" cy="393.9" r="2.5"/><circle cx="461.4" cy="397.4" r="2.5"/><circle cx="468.1" cy="387.1" r="2.5"/><circle cx="474.7" cy="390.4" r="2.5"/><circle cx="481.3" cy="389.7" r="2.5"/><circle cx="487.9" cy="379.9" r="2.5"/><circle cx="494.6" cy="382.7" r="2.5"/><circle cx="501.2" cy="372.5" r="2.5"/><circle cx="507.8" cy="389" r="2.5"/><circle cx="514.5" cy="384.7" r="2.5"/><circle cx="521.1" cy="388.4" r="2.5"/><circle cx="527.7" cy="385.2" r="2.5"/><circle cx="534.3" cy="385.5" r="2.5"/><circle cx="541" cy="384.5" r="2.5"/><circle cx="547.6" cy="384" r="2.5"/><circle cx="554.2" cy="382.1" r="2.5"/><circle cx="560.8" cy="383.7" r="2.5"/><circle cx="567.5" cy="380.1" r="2.5"/><circle cx="574.1" cy="377.9" r="2.5"/><circle cx="580.7" cy="382.6" r="2.5"/><circle cx="587.3" cy="380.9" r="2.5"/><circle cx="594" cy="377.3" r="2.5"/><circle cx="600.6" cy="379.8" r="2.5"/><circle cx="607.2" cy="379.9" r="2.5"/><circle cx="613.8" cy="377.4" r="2.5"/><circle cx="620.5" cy="381.8" r="2.5"/><circle cx="627.1" cy="381.1" r="2.5"/><circle cx="633.7" cy="378.9" r="2.5"/><circle cx="640.3" cy="379.6" r="2.5"/><circle cx="647" cy="378.9" r="2.5"/><circle cx="653.6" cy="379.9" r="2.5"/><circle cx="660.2" cy="379.4" r="2.5"/><circle cx="666.8" cy="379.8" r="2.5"/><circle cx="673.5" cy="380.4" r="2.5"/><circle cx="680.1" cy="380.4" r="2.5"/></g>
<polyline points="408.4,368.2 415.1,374.7 421.7,376.4 428.3,370.3 434.9,363.3 441.6,358 448.2,352.4 454.8,364.1 461.4,349.3 468.1,364.7 474.7,372.6 481.3,351.9 487.9,359.8 494.6,341.4 501.2,376.1 507.8,373.4 514.5,379.9 521.1,377 527.7,377 534.3,374.5 541,374.2 547.6,374.8 554.2,376.4 560.8,376 567.5,375.7 574.1,379.9 580.7,380.4 587.3,377 594,378.6 600.6,377.4 607.2,375.3 613.8,379.6 620.5,380.1 627.1,376.4 633.7,374.5 640.3,377.7 647,376.7 653.6,377.4 660.2,380.1 666.8,380.4 673.5,380.5 680.1,380.4" fill="none" stroke="#ED7D31" stroke-width="2.1" stroke-linejoin="round" stroke-linecap="round"/>
<g fill="#ED7D31"><circle cx="408.4" cy="368.2" r="2.5"/><circle cx="415.1" cy="374.7" r="2.5"/><circle cx="421.7" cy="376.4" r="2.5"/><circle cx="428.3" cy="370.3" r="2.5"/><circle cx="434.9" cy="363.3" r="2.5"/><circle cx="441.6" cy="358" r="2.5"/><circle cx="448.2" cy="352.4" r="2.5"/><circle cx="454.8" cy="364.1" r="2.5"/><circle cx="461.4" cy="349.3" r="2.5"/><circle cx="468.1" cy="364.7" r="2.5"/><circle cx="474.7" cy="372.6" r="2.5"/><circle cx="481.3" cy="351.9" r="2.5"/><circle cx="487.9" cy="359.8" r="2.5"/><circle cx="494.6" cy="341.4" r="2.5"/><circle cx="501.2" cy="376.1" r="2.5"/><circle cx="507.8" cy="373.4" r="2.5"/><circle cx="514.5" cy="379.9" r="2.5"/><circle cx="521.1" cy="377" r="2.5"/><circle cx="527.7" cy="377" r="2.5"/><circle cx="534.3" cy="374.5" r="2.5"/><circle cx="541" cy="374.2" r="2.5"/><circle cx="547.6" cy="374.8" r="2.5"/><circle cx="554.2" cy="376.4" r="2.5"/><circle cx="560.8" cy="376" r="2.5"/><circle cx="567.5" cy="375.7" r="2.5"/><circle cx="574.1" cy="379.9" r="2.5"/><circle cx="580.7" cy="380.4" r="2.5"/><circle cx="587.3" cy="377" r="2.5"/><circle cx="594" cy="378.6" r="2.5"/><circle cx="600.6" cy="377.4" r="2.5"/><circle cx="607.2" cy="375.3" r="2.5"/><circle cx="613.8" cy="379.6" r="2.5"/><circle cx="620.5" cy="380.1" r="2.5"/><circle cx="627.1" cy="376.4" r="2.5"/><circle cx="633.7" cy="374.5" r="2.5"/><circle cx="640.3" cy="377.7" r="2.5"/><circle cx="647" cy="376.7" r="2.5"/><circle cx="653.6" cy="377.4" r="2.5"/><circle cx="660.2" cy="380.1" r="2.5"/><circle cx="666.8" cy="380.4" r="2.5"/><circle cx="673.5" cy="380.5" r="2.5"/><circle cx="680.1" cy="380.4" r="2.5"/></g>
<line x1="465.1" x2="483.4" y1="501.8" y2="501.8" stroke="#5B9BD5" stroke-width="2.1"/>
<circle cx="474.1" cy="501.8" r="2.4" fill="#5B9BD5"/>
<text transform="translate(484.4 505) scale(0.97 1)" font-size="9.8" text-anchor="start">MIP Obj.</text>
<line x1="531" x2="549.3" y1="501.8" y2="501.8" stroke="#ED7D31" stroke-width="2.1"/>
<circle cx="540" cy="501.8" r="2.4" fill="#ED7D31"/>
<text transform="translate(550.3 505) scale(0.97 1)" font-size="9.8" text-anchor="start">SIM Obj.</text>
</g>
<g>
<text transform="translate(348 541.5) scale(0.967 1)" font-size="11.2" text-anchor="middle">S1-2960</text>
<line x1="229.6" x2="502.3" y1="556.6" y2="556.6" stroke="#D9D9D9" stroke-width="0.9"/>
<text transform="translate(219.9 559.9) scale(0.97 1)" font-size="9.7" text-anchor="end">400,000</text>
<line x1="229.6" x2="502.3" y1="574.4" y2="574.4" stroke="#D9D9D9" stroke-width="0.9"/>
<text transform="translate(219.9 577.7) scale(0.97 1)" font-size="9.7" text-anchor="end">380,000</text>
<line x1="229.6" x2="502.3" y1="592.1" y2="592.1" stroke="#D9D9D9" stroke-width="0.9"/>
<text transform="translate(219.9 595.5) scale(0.97 1)" font-size="9.7" text-anchor="end">360,000</text>
<line x1="229.6" x2="502.3" y1="609.9" y2="609.9" stroke="#D9D9D9" stroke-width="0.9"/>
<text transform="translate(219.9 613.3) scale(0.97 1)" font-size="9.7" text-anchor="end">340,000</text>
<line x1="229.6" x2="502.3" y1="627.7" y2="627.7" stroke="#D9D9D9" stroke-width="0.9"/>
<text transform="translate(219.9 631) scale(0.97 1)" font-size="9.7" text-anchor="end">320,000</text>
<line x1="229.6" x2="502.3" y1="645.5" y2="645.5" stroke="#D9D9D9" stroke-width="0.9"/>
<text transform="translate(219.9 648.8) scale(0.97 1)" font-size="9.7" text-anchor="end">300,000</text>
<line x1="229.6" x2="502.3" y1="663.2" y2="663.2" stroke="#D9D9D9" stroke-width="0.9"/>
<text transform="translate(219.9 666.6) scale(0.97 1)" font-size="9.7" text-anchor="end">280,000</text>
<line x1="229.6" x2="502.3" y1="681" y2="681" stroke="#D9D9D9" stroke-width="0.9"/>
<text transform="translate(219.9 684.3) scale(0.97 1)" font-size="9.7" text-anchor="end">260,000</text>
<line x1="229.6" x2="502.3" y1="698.8" y2="698.8" stroke="#D9D9D9" stroke-width="0.9"/>
<text transform="translate(219.9 702.1) scale(0.97 1)" font-size="9.7" text-anchor="end">240,000</text>
<line x1="229.6" x2="502.3" y1="716.5" y2="716.5" stroke="#D9D9D9" stroke-width="0.9"/>
<text transform="translate(219.9 719.9) scale(0.97 1)" font-size="9.7" text-anchor="end">220,000</text>
<line x1="229.6" x2="502.3" y1="734.3" y2="734.3" stroke="#D9D9D9" stroke-width="0.9"/>
<text transform="translate(219.9 737.6) scale(0.97 1)" font-size="9.7" text-anchor="end">200,000</text>
<text transform="translate(232 751.3) scale(0.97 1)" font-size="9.7" text-anchor="middle">1</text>
<text transform="translate(244.8 751.3) scale(0.97 1)" font-size="9.7" text-anchor="middle">4</text>
<text transform="translate(257.6 751.3) scale(0.97 1)" font-size="9.7" text-anchor="middle">7</text>
<text transform="translate(270.3 751.3) scale(0.97 1)" font-size="9.7" text-anchor="middle">10</text>
<text transform="translate(283.1 751.3) scale(0.97 1)" font-size="9.7" text-anchor="middle">13</text>
<text transform="translate(295.9 751.3) scale(0.97 1)" font-size="9.7" text-anchor="middle">16</text>
<text transform="translate(308.7 751.3) scale(0.97 1)" font-size="9.7" text-anchor="middle">19</text>
<text transform="translate(321.5 751.3) scale(0.97 1)" font-size="9.7" text-anchor="middle">22</text>
<text transform="translate(334.2 751.3) scale(0.97 1)" font-size="9.7" text-anchor="middle">25</text>
<text transform="translate(347 751.3) scale(0.97 1)" font-size="9.7" text-anchor="middle">28</text>
<text transform="translate(359.8 751.3) scale(0.97 1)" font-size="9.7" text-anchor="middle">31</text>
<text transform="translate(372.6 751.3) scale(0.97 1)" font-size="9.7" text-anchor="middle">34</text>
<text transform="translate(385.4 751.3) scale(0.97 1)" font-size="9.7" text-anchor="middle">37</text>
<text transform="translate(398.1 751.3) scale(0.97 1)" font-size="9.7" text-anchor="middle">40</text>
<text transform="translate(410.9 751.3) scale(0.97 1)" font-size="9.7" text-anchor="middle">43</text>
<text transform="translate(423.7 751.3) scale(0.97 1)" font-size="9.7" text-anchor="middle">46</text>
<text transform="translate(436.5 751.3) scale(0.97 1)" font-size="9.7" text-anchor="middle">49</text>
<text transform="translate(449.3 751.3) scale(0.97 1)" font-size="9.7" text-anchor="middle">52</text>
<text transform="translate(462 751.3) scale(0.97 1)" font-size="9.7" text-anchor="middle">55</text>
<text transform="translate(474.8 751.3) scale(0.97 1)" font-size="9.7" text-anchor="middle">58</text>
<text transform="translate(487.6 751.3) scale(0.97 1)" font-size="9.7" text-anchor="middle">61</text>
<text transform="translate(500.4 751.3) scale(0.97 1)" font-size="9.7" text-anchor="middle">64</text>
<polyline points="232,667.4 236.3,662.7 240.5,649.5 244.8,648.4 249,640.2 253.3,636.1 257.6,630.4 261.8,632.7 266.1,629.3 270.3,626.8 274.6,630 278.9,627.9 283.1,627.6 287.4,628.6 291.6,624.2 295.9,620.4 300.2,613.3 304.4,618.4 308.7,617 312.9,611.6 317.2,614 321.5,612.7 325.7,610.5 330,611.8 334.2,607.5 338.5,615.2 342.8,605.2 347,607.8 351.3,612 355.5,604 359.8,614.7 364.1,609.9 368.3,610.6 372.6,608.4 376.8,609.8 381.1,607.9 385.4,610.6 389.6,606.1 393.9,602.7 398.1,610.5 402.4,609.8 406.7,607.5 410.9,607.3 415.2,608.4 419.4,606.1 423.7,606.1 428,604.5 432.2,603.4 436.5,607.1 440.7,605.7 445,603.4 449.3,602 453.5,604.3 457.8,600.7 462,605.7 466.3,598.9 470.6,608.5 474.8,609.2 479.1,607.8 483.3,608.8 487.6,606.1 491.9,606.5 496.1,607.5 500.4,607.5" fill="none" stroke="#5B9BD5" stroke-width="2.1" stroke-linejoin="round" stroke-linecap="round"/>
<g fill="#5B9BD5"><circle cx="232" cy="667.4" r="2.5"/><circle cx="236.3" cy="662.7" r="2.5"/><circle cx="240.5" cy="649.5" r="2.5"/><circle cx="244.8" cy="648.4" r="2.5"/><circle cx="249" cy="640.2" r="2.5"/><circle cx="253.3" cy="636.1" r="2.5"/><circle cx="257.6" cy="630.4" r="2.5"/><circle cx="261.8" cy="632.7" r="2.5"/><circle cx="266.1" cy="629.3" r="2.5"/><circle cx="270.3" cy="626.8" r="2.5"/><circle cx="274.6" cy="630" r="2.5"/><circle cx="278.9" cy="627.9" r="2.5"/><circle cx="283.1" cy="627.6" r="2.5"/><circle cx="287.4" cy="628.6" r="2.5"/><circle cx="291.6" cy="624.2" r="2.5"/><circle cx="295.9" cy="620.4" r="2.5"/><circle cx="300.2" cy="613.3" r="2.5"/><circle cx="304.4" cy="618.4" r="2.5"/><circle cx="308.7" cy="617" r="2.5"/><circle cx="312.9" cy="611.6" r="2.5"/><circle cx="317.2" cy="614" r="2.5"/><circle cx="321.5" cy="612.7" r="2.5"/><circle cx="325.7" cy="610.5" r="2.5"/><circle cx="330" cy="611.8" r="2.5"/><circle cx="334.2" cy="607.5" r="2.5"/><circle cx="338.5" cy="615.2" r="2.5"/><circle cx="342.8" cy="605.2" r="2.5"/><circle cx="347" cy="607.8" r="2.5"/><circle cx="351.3" cy="612" r="2.5"/><circle cx="355.5" cy="604" r="2.5"/><circle cx="359.8" cy="614.7" r="2.5"/><circle cx="364.1" cy="609.9" r="2.5"/><circle cx="368.3" cy="610.6" r="2.5"/><circle cx="372.6" cy="608.4" r="2.5"/><circle cx="376.8" cy="609.8" r="2.5"/><circle cx="381.1" cy="607.9" r="2.5"/><circle cx="385.4" cy="610.6" r="2.5"/><circle cx="389.6" cy="606.1" r="2.5"/><circle cx="393.9" cy="602.7" r="2.5"/><circle cx="398.1" cy="610.5" r="2.5"/><circle cx="402.4" cy="609.8" r="2.5"/><circle cx="406.7" cy="607.5" r="2.5"/><circle cx="410.9" cy="607.3" r="2.5"/><circle cx="415.2" cy="608.4" r="2.5"/><circle cx="419.4" cy="606.1" r="2.5"/><circle cx="423.7" cy="606.1" r="2.5"/><circle cx="428" cy="604.5" r="2.5"/><circle cx="432.2" cy="603.4" r="2.5"/><circle cx="436.5" cy="607.1" r="2.5"/><circle cx="440.7" cy="605.7" r="2.5"/><circle cx="445" cy="603.4" r="2.5"/><circle cx="449.3" cy="602" r="2.5"/><circle cx="453.5" cy="604.3" r="2.5"/><circle cx="457.8" cy="600.7" r="2.5"/><circle cx="462" cy="605.7" r="2.5"/><circle cx="466.3" cy="598.9" r="2.5"/><circle cx="470.6" cy="608.5" r="2.5"/><circle cx="474.8" cy="609.2" r="2.5"/><circle cx="479.1" cy="607.8" r="2.5"/><circle cx="483.3" cy="608.8" r="2.5"/><circle cx="487.6" cy="606.1" r="2.5"/><circle cx="491.9" cy="606.5" r="2.5"/><circle cx="496.1" cy="607.5" r="2.5"/><circle cx="500.4" cy="607.5" r="2.5"/></g>
<polyline points="232,591.4 236.3,603.4 240.5,622.2 244.8,622.5 249,606.8 253.3,605.8 257.6,616.6 261.8,609.1 266.1,597.9 270.3,609.5 274.6,607.2 278.9,610.5 283.1,615 287.4,614.7 291.6,606.1 295.9,583.6 300.2,609.9 304.4,609.9 308.7,599.6 312.9,599.6 317.2,604.5 321.5,599 325.7,605.4 330,594.9 334.2,609.1 338.5,591.8 342.8,593.2 347,600.9 351.3,577.8 355.5,600.7 359.8,595.9 364.1,595.2 368.3,591.8 372.6,595.2 376.8,592.5 381.1,602 385.4,597.9 389.6,595.9 393.9,603.1 398.1,607.5 402.4,605 406.7,605.4 410.9,606.8 415.2,603.4 419.4,605 423.7,603.4 428,603.4 432.2,607.2 436.5,602.7 440.7,601.6 445,596.3 449.3,601.6 453.5,598.6 457.8,602.3 462,597.9 466.3,603.4 470.6,608.4 474.8,606.8 479.1,607.1 483.3,606.4 487.6,607.2 491.9,607.5 496.1,607.5 500.4,607.5" fill="none" stroke="#ED7D31" stroke-width="2.1" stroke-linejoin="round" stroke-linecap="round"/>
<g fill="#ED7D31"><circle cx="232" cy="591.4" r="2.5"/><circle cx="236.3" cy="603.4" r="2.5"/><circle cx="240.5" cy="622.2" r="2.5"/><circle cx="244.8" cy="622.5" r="2.5"/><circle cx="249" cy="606.8" r="2.5"/><circle cx="253.3" cy="605.8" r="2.5"/><circle cx="257.6" cy="616.6" r="2.5"/><circle cx="261.8" cy="609.1" r="2.5"/><circle cx="266.1" cy="597.9" r="2.5"/><circle cx="270.3" cy="609.5" r="2.5"/><circle cx="274.6" cy="607.2" r="2.5"/><circle cx="278.9" cy="610.5" r="2.5"/><circle cx="283.1" cy="615" r="2.5"/><circle cx="287.4" cy="614.7" r="2.5"/><circle cx="291.6" cy="606.1" r="2.5"/><circle cx="295.9" cy="583.6" r="2.5"/><circle cx="300.2" cy="609.9" r="2.5"/><circle cx="304.4" cy="609.9" r="2.5"/><circle cx="308.7" cy="599.6" r="2.5"/><circle cx="312.9" cy="599.6" r="2.5"/><circle cx="317.2" cy="604.5" r="2.5"/><circle cx="321.5" cy="599" r="2.5"/><circle cx="325.7" cy="605.4" r="2.5"/><circle cx="330" cy="594.9" r="2.5"/><circle cx="334.2" cy="609.1" r="2.5"/><circle cx="338.5" cy="591.8" r="2.5"/><circle cx="342.8" cy="593.2" r="2.5"/><circle cx="347" cy="600.9" r="2.5"/><circle cx="351.3" cy="577.8" r="2.5"/><circle cx="355.5" cy="600.7" r="2.5"/><circle cx="359.8" cy="595.9" r="2.5"/><circle cx="364.1" cy="595.2" r="2.5"/><circle cx="368.3" cy="591.8" r="2.5"/><circle cx="372.6" cy="595.2" r="2.5"/><circle cx="376.8" cy="592.5" r="2.5"/><circle cx="381.1" cy="602" r="2.5"/><circle cx="385.4" cy="597.9" r="2.5"/><circle cx="389.6" cy="595.9" r="2.5"/><circle cx="393.9" cy="603.1" r="2.5"/><circle cx="398.1" cy="607.5" r="2.5"/><circle cx="402.4" cy="605" r="2.5"/><circle cx="406.7" cy="605.4" r="2.5"/><circle cx="410.9" cy="606.8" r="2.5"/><circle cx="415.2" cy="603.4" r="2.5"/><circle cx="419.4" cy="605" r="2.5"/><circle cx="423.7" cy="603.4" r="2.5"/><circle cx="428" cy="603.4" r="2.5"/><circle cx="432.2" cy="607.2" r="2.5"/><circle cx="436.5" cy="602.7" r="2.5"/><circle cx="440.7" cy="601.6" r="2.5"/><circle cx="445" cy="596.3" r="2.5"/><circle cx="449.3" cy="601.6" r="2.5"/><circle cx="453.5" cy="598.6" r="2.5"/><circle cx="457.8" cy="602.3" r="2.5"/><circle cx="462" cy="597.9" r="2.5"/><circle cx="466.3" cy="603.4" r="2.5"/><circle cx="470.6" cy="608.4" r="2.5"/><circle cx="474.8" cy="606.8" r="2.5"/><circle cx="479.1" cy="607.1" r="2.5"/><circle cx="483.3" cy="606.4" r="2.5"/><circle cx="487.6" cy="607.2" r="2.5"/><circle cx="491.9" cy="607.5" r="2.5"/><circle cx="496.1" cy="607.5" r="2.5"/><circle cx="500.4" cy="607.5" r="2.5"/></g>
<line x1="289.2" x2="307.2" y1="767.9" y2="767.9" stroke="#5B9BD5" stroke-width="2.1"/>
<circle cx="298.1" cy="767.9" r="2.4" fill="#5B9BD5"/>
<text transform="translate(308.2 771.1) scale(0.97 1)" font-size="9.7" text-anchor="start">MIP Obj.</text>
<line x1="354.1" x2="372.1" y1="767.9" y2="767.9" stroke="#ED7D31" stroke-width="2.1"/>
<circle cx="363" cy="767.9" r="2.4" fill="#ED7D31"/>
<text transform="translate(373.1 771.1) scale(0.97 1)" font-size="9.7" text-anchor="start">SIM Obj.</text>
</g>
<text class="cap" transform="translate(253.6 802.4) scale(1.13 1)" font-size="18.3" font-weight="bold" style="stroke:#111;stroke-width:0.35px">(a)</text>
<text class="cap" transform="translate(282.6 802.4) scale(0.95 1)" font-size="18.3" style="stroke:#111;stroke-width:0.12px">Cases under Scenario 1</text>
</svg></body></html>
